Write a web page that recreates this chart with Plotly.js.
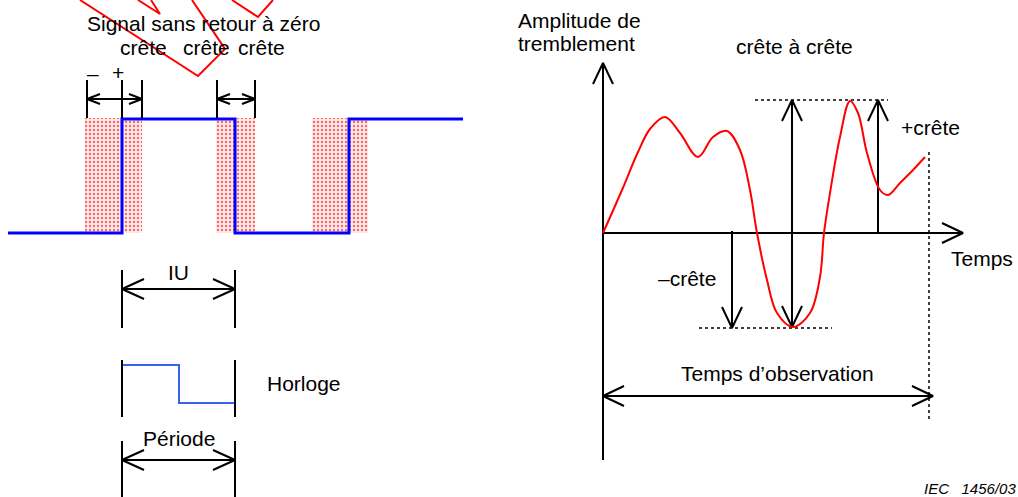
<!DOCTYPE html>
<html>
<head>
<meta charset="utf-8">
<script src="https://cdn.plot.ly/plotly-3.0.1.min.js"></script>
<style>html,body{margin:0;padding:0;background:#fff;}#chart{width:1018px;height:497px;}</style>
</head>
<body>
<div id="chart"></div>
<script>
// ---- Data (diagram coordinates) ----
// Non-return-to-zero signal (blue)
const signalX = [8, 122, 122, 235, 235, 349, 349, 463];
const signalY = [233, 233, 119, 119, 233, 233, 119, 119];
// Jitter zones around each transition (left edge, right edge)
const zoneLeft  = [85, 216, 312];
const zoneRight = [142, 255, 368];
const zoneTop = 118, zoneBottom = 233;
// Clock waveform
const clockX = [122, 179, 179, 235];
const clockY = [365, 365, 403, 403];
// Jitter amplitude curve (red)
const curveX = [603, 622, 638, 650, 665, 680, 698, 713, 727, 740, 750, 757, 767, 777, 793, 810, 820, 824, 830, 840, 850, 858, 867, 880, 888, 900, 913, 925];
const curveY = [233, 190, 152, 129, 117, 133, 157, 137, 131, 150, 190, 233, 280, 313, 327, 313, 277, 233, 193, 137, 101, 113, 153, 190, 195, 183, 170, 157];
// Red stray construction lines at the top
const strayX = [80, 198, 225, 192, null, 138, 160, 151, null, 232, 258, 273];
const strayY = [0, 76, 49, 0, null, 0, 14, 0, null, 0, 17, 0];

// Texts
const labels = [
  {t: 'Signal sans retour à zéro', x: 203, y: 23},
  {t: 'crête', x: 143, y: 47},
  {t: 'crête', x: 206, y: 47},
  {t: 'crête', x: 261, y: 47},
  {t: '–', x: 93, y: 73},
  {t: '+', x: 118, y: 72},
  {t: 'IU', x: 178, y: 272},
  {t: 'Horloge', x: 304, y: 383},
  {t: 'Période', x: 179, y: 438},
  {t: 'crête à crête', x: 794, y: 46},
  {t: '+crête', x: 930, y: 127},
  {t: '–crête', x: 687, y: 278},
  {t: 'Temps', x: 982, y: 258},
  {t: 'Temps d’observation', x: 777, y: 373}
];

// ---- Build traces ----
const traces = [];
const NUL = null;

// hatched jitter zones
for (let i = 0; i < zoneLeft.length; i++) {
  traces.push({
    type: 'scatter', mode: 'lines', hoverinfo: 'skip',
    x: [zoneLeft[i], zoneRight[i], zoneRight[i], zoneLeft[i], zoneLeft[i]],
    y: [zoneTop, zoneTop, zoneBottom, zoneBottom, zoneTop],
    fill: 'toself', line: {width: 0, color: 'rgba(0,0,0,0)'},
    fillcolor: 'rgba(255,200,200,0.5)',
    fillpattern: {shape: '.', fgcolor: 'rgba(255,60,60,0.75)', bgcolor: 'rgba(255,220,220,0.55)', size: 4, solidity: 0.3}
  });
}

// black segments
const bx = [], by = [];
function seg(x1, y1, x2, y2) { bx.push(x1, x2, NUL); by.push(y1, y2, NUL); }
function head(x, y, dir, len, half) {
  // open V-shaped arrowhead with tip at (x,y)
  if (dir === 'L') { bx.push(x + len, x, x + len, NUL); by.push(y - half, y, y + half, NUL); }
  if (dir === 'R') { bx.push(x - len, x, x - len, NUL); by.push(y - half, y, y + half, NUL); }
  if (dir === 'U') { bx.push(x - half, x, x + half, NUL); by.push(y + len, y, y + len, NUL); }
  if (dir === 'D') { bx.push(x - half, x, x + half, NUL); by.push(y - len, y, y - len, NUL); }
}
// top dimension marks
[87, 122, 142, 217, 255].forEach(x => seg(x, 80, x, 118));
seg(87, 99, 142, 99); head(87, 99, 'L', 13, 5); head(142, 99, 'R', 13, 5);
seg(217, 99, 255, 99); head(217, 99, 'L', 13, 5); head(255, 99, 'R', 13, 5);
// IU
seg(122, 270, 122, 328); seg(235, 270, 235, 328);
seg(122, 289, 235, 289); head(122, 289, 'L', 22, 10); head(235, 289, 'R', 22, 10);
// clock verticals
seg(122, 360, 122, 417); seg(235, 360, 235, 417);
// Période
seg(122, 441, 122, 497); seg(235, 441, 235, 497);
seg(122, 460, 235, 460); head(122, 460, 'L', 22, 10); head(235, 460, 'R', 22, 10);
// right panel axes
seg(603, 63, 603, 460); head(603, 63, 'U', 21, 10);
seg(603, 233, 963, 233); head(963, 233, 'R', 21, 10);
// peak-to-peak double arrow
seg(792, 100, 792, 327); head(792, 100, 'U', 21, 10); head(792, 327, 'D', 21, 10);
// +crête arrow
seg(878, 233, 878, 100); head(878, 100, 'U', 21, 10);
// -crête arrow
seg(732, 231, 732, 328); head(732, 328, 'D', 21, 10);
// observation time arrow
seg(603, 396, 933, 396); head(603, 396, 'L', 21, 10); head(933, 396, 'R', 21, 10);

traces.push({type: 'scatter', mode: 'lines', x: signalX, y: signalY, line: {color: '#0000ff', width: 3}, hoverinfo: 'skip'});
traces.push({type: 'scatter', mode: 'lines', x: clockX, y: clockY, line: {color: '#3a62f5', width: 2}, hoverinfo: 'skip'});
traces.push({type: 'scatter', mode: 'lines', x: bx, y: by, line: {color: '#000', width: 2}, hoverinfo: 'skip', connectgaps: false});
// dotted reference lines
traces.push({type: 'scatter', mode: 'lines', x: [755, 888, NUL, 699, 832, NUL, 929, 929], y: [100, 100, NUL, 328, 328, NUL, 152, 422],
  line: {color: '#000', width: 1.5, dash: 'dot'}, hoverinfo: 'skip'});
traces.push({type: 'scatter', mode: 'lines', x: curveX, y: curveY, line: {color: '#ff0000', width: 2, shape: 'spline', smoothing: 1}, hoverinfo: 'skip'});
traces.push({type: 'scatter', mode: 'lines', x: strayX, y: strayY, line: {color: '#ff0000', width: 2}, hoverinfo: 'skip'});

const font = {family: 'Liberation Sans, Arial, sans-serif', size: 21, color: '#000'};
const annotations = labels.map(l => ({x: l.x, y: l.y, xref: 'x', yref: 'y', text: l.t, showarrow: false, font: font, xanchor: 'center', yanchor: 'middle'}));
annotations.push({x: 516, y: 20, xref: 'x', yref: 'y', text: 'Amplitude de', showarrow: false, font: font, xanchor: 'left', yanchor: 'middle'});
annotations.push({x: 516, y: 43, xref: 'x', yref: 'y', text: 'tremblement', showarrow: false, font: font, xanchor: 'left', yanchor: 'middle'});
annotations.push({x: 922, y: 488, xref: 'x', yref: 'y', text: '<i>IEC   1456/03</i>', showarrow: false,
  font: {family: 'Liberation Sans, Arial, sans-serif', size: 15, color: '#000'}, xanchor: 'left', yanchor: 'middle'});

const layout = {
  width: 1018, height: 497,
  margin: {l: 0, r: 0, t: 0, b: 0},
  paper_bgcolor: '#fff', plot_bgcolor: '#fff',
  showlegend: false, hovermode: false,
  xaxis: {range: [0, 1018], visible: false, fixedrange: true},
  yaxis: {range: [497, 0], visible: false, fixedrange: true},
  annotations: annotations
};
Plotly.newPlot('chart', traces, layout, {displayModeBar: false, staticPlot: true});
</script>
</body>
</html>
